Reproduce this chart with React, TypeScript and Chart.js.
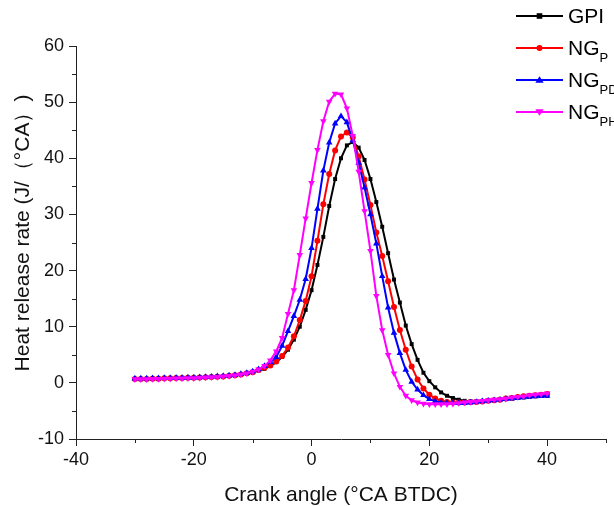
import React, { useEffect, useRef } from 'react';
import { Chart, registerables } from 'chart.js';

Chart.register(...registerables);

// Crank angle (°CA BTDC)
const crankAngle = [
  -30, -29, -28, -27, -26, -25, -24, -23, -22, -21,
  -20, -19, -18, -17, -16, -15, -14, -13, -12, -11,
  -10, -9, -8, -7, -6, -5, -4, -3, -2, -1,
  0, 1, 2, 3, 4, 5, 6, 7, 8, 9,
  10, 11, 12, 13, 14, 15, 16, 17, 18, 19,
  20, 21, 22, 23, 24, 25, 26, 27, 28, 29,
  30, 31, 32, 33, 34, 35, 36, 37, 38, 39,
  40,
];

const gpi = [
  0.7, 0.7, 0.7, 0.75, 0.75, 0.8, 0.8, 0.85, 0.85, 0.9,
  0.9, 0.95, 1.0, 1.05, 1.1, 1.15, 1.25, 1.35, 1.5, 1.7,
  1.9, 2.2, 2.5, 3.0, 3.7, 4.6, 5.9, 7.7, 10.0, 13.0,
  16.5, 21.0, 26.0, 31.5, 36.3, 40.0, 42.3, 42.9, 41.9, 39.7,
  36.3, 32.2, 27.8, 23.1, 18.4, 14.3, 10.2, 6.9, 4.1, 1.8,
  0.3, -0.8, -1.7, -2.3, -2.7, -3.0, -3.2, -3.3, -3.3, -3.3,
  -3.2, -3.1, -3.0, -2.9, -2.8, -2.7, -2.6, -2.5, -2.4, -2.35,
  -2.3,
];

const ngP = [
  0.7, 0.7, 0.7, 0.75, 0.75, 0.8, 0.8, 0.85, 0.85, 0.9,
  0.9, 0.95, 1.0, 1.05, 1.1, 1.15, 1.25, 1.35, 1.5, 1.7,
  1.9, 2.3, 2.7, 3.1, 3.8, 4.8, 6.3, 8.3, 11.2, 14.6,
  19.0, 25.3, 31.8, 37.2, 41.4, 43.9, 44.6, 43.7, 40.3, 36.2,
  31.7, 26.8, 22.6, 18.1, 13.5, 9.4, 5.9, 2.9, 0.6, -1.0,
  -2.1, -2.8, -3.2, -3.4, -3.5, -3.5, -3.5, -3.4, -3.4, -3.3,
  -3.2, -3.1, -3.0, -2.8, -2.7, -2.5, -2.4, -2.3, -2.2, -2.1,
  -2.0,
];

const ngPD = [
  0.75, 0.75, 0.75, 0.8, 0.8, 0.85, 0.85, 0.9, 0.9, 0.95,
  0.95, 1.0, 1.05, 1.1, 1.15, 1.2, 1.3, 1.4, 1.55, 1.75,
  2.0, 2.4, 3.0, 3.7, 4.6, 6.6, 9.2, 11.9, 14.8, 18.5,
  24.0, 31.0, 37.8, 42.8, 46.2, 47.5, 46.4, 43.2, 39.2, 34.8,
  30.0, 24.8, 19.0, 13.4, 8.9, 5.3, 2.3, 0.2, -1.2, -2.2,
  -2.9, -3.3, -3.5, -3.6, -3.6, -3.6, -3.6, -3.5, -3.4, -3.3,
  -3.2, -3.1, -3.0, -2.9, -2.8, -2.7, -2.6, -2.5, -2.4, -2.35,
  -2.3,
];

const ngPH = [
  0.65, 0.65, 0.65, 0.7, 0.7, 0.75, 0.75, 0.8, 0.8, 0.85,
  0.85, 0.9, 0.95, 1.0, 1.05, 1.15, 1.25, 1.35, 1.5, 1.7,
  2.0, 2.4, 3.0, 4.0, 5.6, 8.0, 12.3, 16.5, 22.8, 29.3,
  35.6, 41.5, 46.6, 50.1, 51.5, 51.4, 48.9, 44.0, 37.6, 30.6,
  23.5, 15.5, 9.4, 5.0, 1.7, -0.7, -2.3, -3.1, -3.5, -3.7,
  -3.8, -3.8, -3.8, -3.8, -3.7, -3.6, -3.5, -3.4, -3.3, -3.2,
  -3.1, -3.0, -2.9, -2.8, -2.6, -2.5, -2.4, -2.2, -2.1, -2.0,
  -1.9,
];

const seriesNames = ['GPI', 'NG', 'NG', 'NG'];
const seriesSubs = ['', 'P', 'PD', 'PH'];
const seriesColors = ['#000000', '#ff0000', '#0000ff', '#ff00ff'];
const seriesValues = [gpi, ngP, ngPD, ngPH];
const seriesMarkers = ['rect', 'circle', 'triangle', 'triangle'];
const seriesRotation = [0, 0, 0, 180];
const seriesRadius = [2.8, 3, 3.8, 3.8];

const xTitle = 'Crank angle (°CA BTDC)';
const yTitle = 'Heat release rate (J/（°CA）)';

const FONT = '"Liberation Sans", Arial, sans-serif';
const AXIS_COLOR = '#222222';

function drawMarker(ctx: CanvasRenderingContext2D, kind: string, rot: number, cx: number, cy: number, r: number, color: string) {
  ctx.save();
  ctx.fillStyle = color;
  ctx.beginPath();
  if (kind === 'rect') {
    ctx.rect(cx - r, cy - r, 2 * r, 2 * r);
  } else if (kind === 'circle') {
    ctx.arc(cx, cy, r, 0, Math.PI * 2);
  } else {
    const dir = rot === 180 ? -1 : 1;
    const h = r * 1.5;
    ctx.moveTo(cx, cy - dir * h * 0.66);
    ctx.lineTo(cx - r * 1.1, cy + dir * h * 0.5);
    ctx.lineTo(cx + r * 1.1, cy + dir * h * 0.5);
    ctx.closePath();
  }
  ctx.fill();
  ctx.restore();
}

const legendPlugin = {
  id: 'customLegend',
  afterDraw(chart: any) {
    const ctx: CanvasRenderingContext2D = chart.ctx;
    const rows = [16, 48, 80, 112];
    ctx.save();
    seriesNames.forEach((name, i) => {
      const y = rows[i];
      ctx.strokeStyle = seriesColors[i];
      ctx.lineWidth = 2;
      ctx.beginPath();
      ctx.moveTo(516, y);
      ctx.lineTo(563, y);
      ctx.stroke();
      drawMarker(ctx, seriesMarkers[i], seriesRotation[i], 539.5, y, seriesRadius[i], seriesColors[i]);
      ctx.fillStyle = '#000';
      ctx.textBaseline = 'middle';
      ctx.textAlign = 'left';
      ctx.font = `21px ${FONT}`;
      ctx.fillText(name, 568, y + 1);
      if (seriesSubs[i]) {
        const w = ctx.measureText(name).width;
        ctx.font = `13px ${FONT}`;
        ctx.fillText(seriesSubs[i], 568 + w, y + 10);
      }
    });
    ctx.restore();
  },
};

const yTitlePlugin = {
  id: 'yTitle',
  afterDraw(chart: any) {
    const ctx: CanvasRenderingContext2D = chart.ctx;
    ctx.save();
    ctx.translate(23, 233);
    ctx.rotate(-Math.PI / 2);
    ctx.fillStyle = '#111111';
    ctx.font = `21px ${FONT}`;
    ctx.textAlign = 'center';
    ctx.textBaseline = 'middle';
    ctx.fillText(yTitle, 0, 0);
    ctx.restore();
  },
};

const minorTickPlugin = {
  id: 'minorTicks',
  afterDraw(chart: any) {
    const ctx: CanvasRenderingContext2D = chart.ctx;
    const xs = chart.scales.x;
    const ys = chart.scales.y;
    ctx.save();
    ctx.strokeStyle = AXIS_COLOR;
    ctx.lineWidth = 1;
    ctx.beginPath();
    xs.ticks.forEach((t: any) => {
      if (t.value % 20 !== 0) {
        const px = Math.round(xs.getPixelForValue(t.value)) + 0.5;
        ctx.moveTo(px, xs.top);
        ctx.lineTo(px, xs.top + 4);
      }
    });
    ys.ticks.forEach((t: any) => {
      if (t.value % 10 !== 0) {
        const py = Math.round(ys.getPixelForValue(t.value)) + 0.5;
        ctx.moveTo(ys.right, py);
        ctx.lineTo(ys.right - 4, py);
      }
    });
    ctx.stroke();
    ctx.restore();
  },
};

export default function App() {
  const canvasRef = useRef<HTMLCanvasElement | null>(null);

  useEffect(() => {
    if (!canvasRef.current) return;
    Chart.defaults.font.family = FONT;
    Chart.defaults.color = '#111111';

    const datasets = seriesNames.map((name, i) => ({
      label: name + seriesSubs[i],
      data: crankAngle.map((x, j) => ({ x, y: seriesValues[i][j] })),
      borderColor: seriesColors[i],
      backgroundColor: seriesColors[i],
      borderWidth: 2,
      pointStyle: seriesMarkers[i],
      pointRotation: seriesRotation[i],
      pointRadius: seriesRadius[i],
      pointBorderWidth: 0,
      pointBackgroundColor: seriesColors[i],
      tension: 0,
      order: 4 - i,
    }));

    const chart = new Chart(canvasRef.current, {
      type: 'line',
      data: { datasets },
      options: {
        animation: false,
        responsive: false,
        maintainAspectRatio: false,
        layout: { padding: { left: 0, right: 8, top: 46, bottom: 0 } },
        plugins: {
          legend: { display: false },
          tooltip: { enabled: false },
        },
        scales: {
          x: {
            type: 'linear',
            min: -40,
            max: 50,
            afterFit: (s: any) => { s.height = 67; },
            border: { display: true, color: AXIS_COLOR, width: 1 },
            grid: {
              drawOnChartArea: false,
              drawTicks: true,
              tickLength: 7,
              tickWidth: 1,
              tickColor: (c: any) => (c.tick && c.tick.value % 20 === 0 ? AXIS_COLOR : 'rgba(0,0,0,0)'),
            },
            ticks: {
              stepSize: 10,
              autoSkip: false,
              maxRotation: 0,
              padding: 3,
              color: '#111111',
              font: { size: 18, family: FONT },
              callback: (v: any) => (Number(v) % 20 === 0 ? String(v) : ''),
            },
            title: {
              display: true,
              text: xTitle,
              color: '#111111',
              font: { size: 21, family: FONT, lineHeight: 1 },
              padding: { top: 0, bottom: 0 },
            },
          },
          y: {
            type: 'linear',
            min: -10,
            max: 60,
            afterFit: (s: any) => { s.width = 76; },
            border: { display: true, color: AXIS_COLOR, width: 1 },
            grid: {
              drawOnChartArea: false,
              drawTicks: true,
              tickLength: 7,
              tickWidth: 1,
              tickColor: (c: any) => (c.tick && c.tick.value % 10 === 0 ? AXIS_COLOR : 'rgba(0,0,0,0)'),
            },
            ticks: {
              stepSize: 5,
              autoSkip: false,
              padding: 5,
              color: '#111111',
              font: { size: 18, family: FONT },
              callback: (v: any) => (Number(v) % 10 === 0 ? String(v) : ''),
            },
            title: {
              display: false,
              text: yTitle,
            },
          },
        },
      },
      plugins: [legendPlugin, minorTickPlugin, yTitlePlugin],
    } as any);

    return () => chart.destroy();
  }, []);

  return (
    <div style={{ position: 'absolute', left: 0, top: 0, width: 614, height: 506, background: '#ffffff' }}>
      <canvas ref={canvasRef} width={614} height={506} style={{ display: 'block', width: 614, height: 506 }} />
    </div>
  );
}
